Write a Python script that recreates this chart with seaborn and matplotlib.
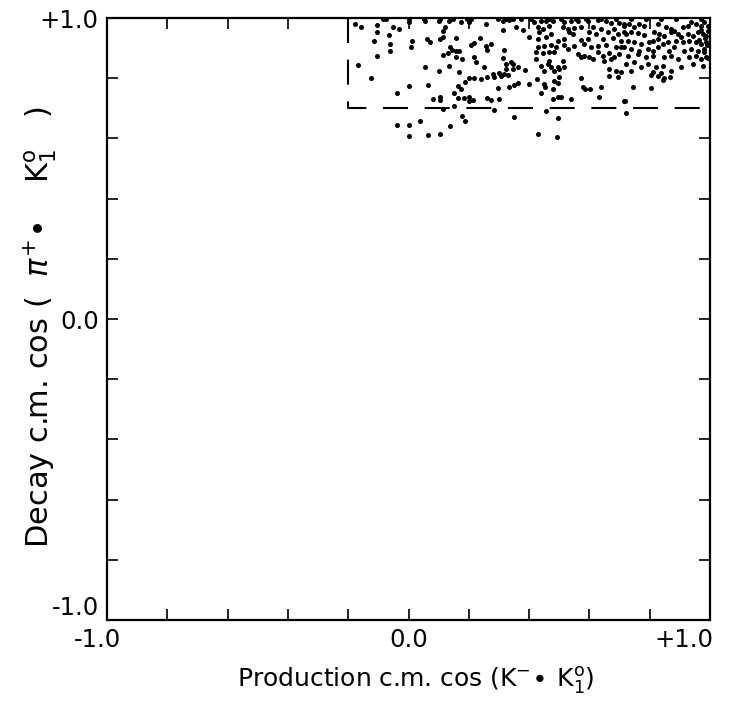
import matplotlib
matplotlib.use("Agg")
import matplotlib.pyplot as plt
import matplotlib.transforms as mtransforms
import seaborn as sns
import numpy as np
import pandas as pd

# Production c.m. cos (x) and decay c.m. cos (y) of the events
prod_cos = [
    -0.179, -0.159, -0.106, -0.106, -0.053, -0.033, 0.000, 0.056, -0.116, -0.066,
    -0.063, -0.063, 0.013, 0.007, 0.060, 0.070, -0.106, -0.169, 0.056,
    -0.086, -0.073, 0.003, 0.053,
    0.100, 0.133, 0.120, 0.113, 0.173, 0.199, 0.256, 0.312, 0.332, 0.355,
    0.312, 0.379, 0.399, 0.103, 0.116, 0.159, 0.236, 0.206, 0.216, 0.256,
    0.272, 0.262, 0.136, 0.143, 0.156, 0.166, 0.316, 0.116, 0.130, 0.156,
    0.179, 0.216, 0.223, 0.312, 0.322, 0.339, 0.346, 0.133, 0.252, 0.322,
    0.346, 0.362, 0.385, 0.100, 0.166, 0.279, 0.299, 0.316,
    0.106, 0.146, 0.193, 0.206, 0.296, 0.322, 0.346, 0.372,
    0.415, 0.439, 0.455, 0.478, 0.515, 0.538, 0.561, 0.595, 0.628, 0.654,
    0.671, 0.698, 0.714, 0.429, 0.445, 0.465, 0.512, 0.528, 0.548, 0.571,
    0.611, 0.638, 0.681, 0.432, 0.472, 0.532, 0.545, 0.598, 0.621, 0.661,
    0.694, 0.714, 0.429, 0.455, 0.495, 0.515, 0.571, 0.595, 0.645, 0.678,
    0.704, 0.429, 0.449, 0.472, 0.488, 0.515, 0.528, 0.548, 0.581, 0.605,
    0.628, 0.654, 0.688, 0.704, 0.422, 0.445, 0.465, 0.482, 0.561, 0.571,
    0.581, 0.598, 0.628, 0.645, 0.664, 0.681, 0.698, 0.422, 0.465, 0.512,
    0.611, 0.648, 0.671, 0.439, 0.462, 0.472, 0.495, 0.515, 0.449, 0.482,
    0.498, 0.664, 0.688, 0.704,
    0.405, 0.465, 0.505, 0.555, 0.588, 0.638, 0.688,
    0.714, 0.731, 0.748, 0.764, 0.781, 0.827, 0.854, 0.870, 0.880, 0.910,
    0.927, 0.937, 0.953, 0.970, 0.980, 0.993, 0.721, 0.738, 0.761, 0.781,
    0.814, 0.831, 0.847, 0.870, 0.894, 0.904, 0.927, 0.944, 0.960, 0.977,
    0.987, 0.993, 0.728, 0.748, 0.771, 0.797, 0.811, 0.827, 0.844, 0.860,
    0.887, 0.910, 0.930, 0.953, 0.970, 0.987, 0.714, 0.738, 0.764, 0.794,
    0.811, 0.827, 0.864, 0.880, 0.914, 0.937, 0.960, 0.980, 0.728, 0.761,
    0.787, 0.811, 0.847, 0.870, 0.894, 0.930, 0.953, 0.970, 0.987, 0.721,
    0.748, 0.771, 0.794, 0.821, 0.844, 0.904, 0.944, 0.977, 0.738, 0.811,
    0.837, 0.870,
    0.738, 0.787, 0.837, 0.887, 0.970,
    -0.126, 0.000, 0.066, -0.037, 0.080, -0.037, 0.003, 0.037, 0.003, 0.063,
    0.199, 0.216, 0.239, 0.259, 0.282, 0.306, 0.329, 0.163, 0.173, 0.189,
    0.296, 0.332, 0.349, 0.362, 0.399, 0.150, 0.103, 0.106, 0.163, 0.183,
    0.199, 0.199, 0.213, 0.262, 0.272, 0.299, 0.113, 0.150, 0.282, 0.179,
    0.189, 0.349, 0.136, 0.106,
    0.425, 0.449, 0.452, 0.482, 0.495, 0.498, 0.478, 0.439, 0.478, 0.495,
    0.505, 0.538, 0.571, 0.578, 0.585, 0.601, 0.638, 0.631, 0.664, 0.694,
    0.714, 0.455, 0.495, 0.429, 0.492,
    0.804, 0.827, 0.844, 0.847, 0.867, 0.744, 0.804, 0.718, 0.721,
    0.970, 0.983, 0.990, 0.963, 0.980, 0.993,
]
decay_cos = [
    0.980, 0.970, 0.977, 0.953, 0.970, 0.963, 0.987, 0.990, 0.924, 0.944,
    0.914, 0.890, 0.924, 0.904, 0.930, 0.920, 0.874, 0.844, 0.837,
    0.997, 0.997, 0.997, 0.997,
    0.990, 0.990, 0.970, 0.957, 0.987, 0.987, 0.980, 0.990, 0.993, 0.970,
    0.960, 0.960, 0.937, 0.930, 0.937, 0.934, 0.934, 0.910, 0.917, 0.907,
    0.914, 0.894, 0.904, 0.894, 0.890, 0.890, 0.894, 0.877, 0.884, 0.870,
    0.864, 0.870, 0.854, 0.867, 0.847, 0.854, 0.847, 0.841, 0.837, 0.831,
    0.831, 0.837, 0.827, 0.824, 0.821, 0.814, 0.817, 0.814,
    0.997, 0.997, 0.997, 0.997, 0.997, 0.997, 0.997, 0.997,
    0.987, 0.990, 0.990, 0.990, 0.987, 0.990, 0.990, 0.990, 0.993, 0.990,
    0.983, 0.983, 0.980, 0.970, 0.963, 0.973, 0.970, 0.963, 0.967, 0.970,
    0.970, 0.963, 0.963, 0.953, 0.947, 0.953, 0.947, 0.953, 0.947, 0.953,
    0.947, 0.953, 0.930, 0.937, 0.924, 0.930, 0.927, 0.930, 0.930, 0.934,
    0.924, 0.904, 0.907, 0.910, 0.904, 0.910, 0.897, 0.907, 0.914, 0.904,
    0.907, 0.910, 0.904, 0.904, 0.887, 0.884, 0.887, 0.887, 0.880, 0.870,
    0.874, 0.870, 0.887, 0.874, 0.884, 0.870, 0.880, 0.864, 0.857, 0.857,
    0.864, 0.857, 0.864, 0.841, 0.847, 0.837, 0.837, 0.837, 0.824, 0.824,
    0.831, 0.831, 0.824, 0.821,
    0.997, 0.997, 0.997, 0.997, 0.997, 0.997, 0.997,
    0.973, 0.980, 0.970, 0.980, 0.973, 0.980, 0.970, 0.963, 0.957, 0.970,
    0.973, 0.987, 0.980, 0.973, 0.987, 0.973, 0.947, 0.953, 0.950, 0.944,
    0.953, 0.947, 0.940, 0.953, 0.947, 0.937, 0.947, 0.940, 0.953, 0.947,
    0.940, 0.957, 0.924, 0.920, 0.914, 0.920, 0.924, 0.930, 0.914, 0.920,
    0.924, 0.920, 0.924, 0.920, 0.914, 0.920, 0.904, 0.897, 0.890, 0.897,
    0.890, 0.904, 0.890, 0.904, 0.890, 0.897, 0.890, 0.897, 0.874, 0.880,
    0.870, 0.874, 0.870, 0.874, 0.864, 0.870, 0.874, 0.864, 0.870, 0.847,
    0.854, 0.837, 0.847, 0.837, 0.841, 0.837, 0.847, 0.841, 0.824, 0.821,
    0.817, 0.824,
    0.997, 0.997, 0.997, 0.997, 0.997,
    0.801, 0.774, 0.777, 0.751, 0.731, 0.645, 0.645, 0.658, 0.608, 0.611,
    0.801, 0.801, 0.797, 0.804, 0.804, 0.807, 0.811, 0.774, 0.764, 0.787,
    0.767, 0.771, 0.777, 0.784, 0.781, 0.751, 0.738, 0.728, 0.734, 0.734,
    0.738, 0.724, 0.728, 0.734, 0.728, 0.731, 0.698, 0.708, 0.694, 0.674,
    0.658, 0.671, 0.641, 0.615,
    0.797, 0.781, 0.771, 0.791, 0.784, 0.804, 0.764, 0.751, 0.731, 0.738,
    0.738, 0.731, 0.801, 0.771, 0.764, 0.764, 0.771, 0.738, 0.807, 0.804,
    0.724, 0.691, 0.668, 0.615, 0.605,
    0.811, 0.807, 0.794, 0.801, 0.804, 0.771, 0.767, 0.724, 0.684,
    0.960, 0.934, 0.910, 0.927, 0.887, 0.867,
]

# Cut region (dashed box)
cut_x = -0.2
cut_y = 0.7

tick_values = [-1.0, -0.8, -0.6, -0.4, -0.2, 0.0, 0.2, 0.4, 0.6, 0.8, 1.0]
tick_labels = ["-1.0", "", "", "", "", "0.0", "", "", "", "", "+1.0"]

df = pd.DataFrame({"prod": prod_cos, "decay": decay_cos})

sns.set_theme(style="white")
plt.rcParams["font.family"] = ["DejaVu Sans"]

fig = plt.figure(figsize=(7.34, 7.02), dpi=100)
ax = fig.add_axes([0.1458, 0.1168, 0.8215, 0.8575])

sns.scatterplot(data=df, x="prod", y="decay", color="black", s=13,
                linewidth=0, ax=ax, legend=False, clip_on=False)

ax.plot([cut_x, cut_x, 1.0], [1.0, cut_y, cut_y], color="black", lw=1.5,
        linestyle=(0, (12, 8)), clip_on=False)

ax.set_xlim(-1, 1)
ax.set_ylim(-1, 1)
ax.set_xticks(tick_values)
ax.set_yticks(tick_values)
ax.set_xticklabels(tick_labels, fontsize=17.5)
ax.set_yticklabels(tick_labels, fontsize=17.5)
ax.tick_params(direction="in", length=8, width=1.2, top=True, right=True,
               bottom=True, left=True, pad=6, colors="black")

fig.canvas.draw()
xl = ax.get_xticklabels()
xl[-1].set_horizontalalignment("right")
xl[-1].set_transform(xl[-1].get_transform() +
                     mtransforms.ScaledTranslation(0.03, 0, fig.dpi_scale_trans))
xl[0].set_transform(xl[0].get_transform() +
                    mtransforms.ScaledTranslation(-0.10, 0, fig.dpi_scale_trans))
yl = ax.get_yticklabels()
yl[0].set_verticalalignment("bottom")

for sp in ax.spines.values():
    sp.set_color("black")
    sp.set_linewidth(1.6)
    sp.set_visible(True)

ax.set_xlabel(r"Production c.m. cos (K$^{-}\!\bullet\,\mathrm{K}_{1}^{\mathrm{o}}$)",
              fontsize=18, color="black")
ax.set_ylabel(r"Decay c.m. cos (  $\pi^{+}\!\bullet\quad\mathrm{K}_{1}^{\mathrm{o}}\quad$)",
              fontsize=22, color="black")
ax.xaxis.set_label_coords(0.512, -0.075)
ax.yaxis.set_label_coords(-0.080, 0.487)

fig.savefig("out.png", dpi=100, facecolor="white")
